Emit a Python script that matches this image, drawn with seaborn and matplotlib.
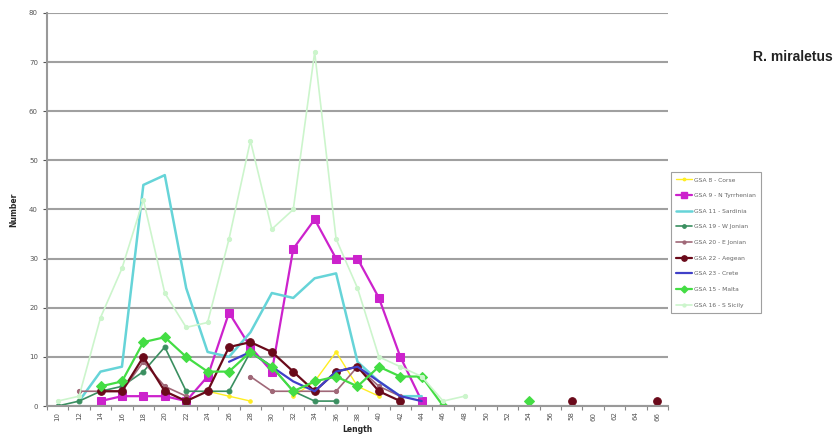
import numpy as np
import pandas as pd
import matplotlib
matplotlib.use("Agg")
import matplotlib.pyplot as plt
from matplotlib.lines import Line2D
import seaborn as sns

nan = np.nan
lengths = [str(v) for v in range(10, 68, 2)]  # 29 length classes

gsa8_corse = [nan, nan, nan, nan, nan, nan, nan, 3, 2, 1, nan, 2, 5, 11, 4, 2, nan, nan, nan, nan, nan, nan, nan, nan, nan, nan, nan, nan, nan]
gsa9_tyrrhenian = [nan, nan, 1, 2, 2, 2, 1, 6, 19, 12, 7, 32, 38, 30, 30, 22, 10, 1, nan, nan, nan, nan, nan, nan, nan, nan, nan, nan, nan]
gsa11_sardinia = [nan, 1, 7, 8, 45, 47, 24, 11, 10, 15, 23, 22, 26, 27, 9, 5, 2, 2, nan, nan, nan, nan, nan, nan, nan, nan, nan, nan, nan]
gsa19_wjonian = [0, 1, 3, 4, 7, 12, 3, 3, 3, 11, 8, 3, 1, 1, nan, nan, nan, nan, nan, nan, nan, nan, nan, nan, nan, nan, nan, nan, nan]
gsa20_ejonian = [nan, 3, 3, 3, 9, 4, 2, nan, nan, 6, 3, 3, 3, 3, 8, 4, 2, nan, nan, nan, nan, nan, nan, nan, nan, nan, nan, nan, nan]
gsa22_aegean = [nan, nan, 3, 3, 10, 3, 1, 3, 12, 13, 11, 7, 3, 7, 8, 3, 1, nan, nan, nan, nan, nan, nan, nan, 1, nan, nan, nan, 1]
gsa23_crete = [nan, nan, nan, nan, nan, nan, nan, nan, 9, 11, 8, 5, 3, 7, 8, 5, 2, 1, nan, nan, nan, nan, nan, nan, nan, nan, nan, nan, nan]
gsa15_malta = [nan, nan, 4, 5, 13, 14, 10, 7, 7, 11, 8, 3, 5, 6, 4, 8, 6, 6, 0, nan, nan, nan, 1, nan, nan, nan, nan, nan, nan]
gsa16_ssicily = [1, 2, 18, 28, 42, 23, 16, 17, 34, 54, 36, 40, 72, 34, 24, 10, 8, 6, 1, 2, nan, nan, nan, nan, nan, nan, nan, nan, nan]

series = [
    ("GSA 8 - Corse", gsa8_corse, "#FFEE22", "o", 1.0, 2.5),
    ("GSA 9 - N Tyrrhenian", gsa9_tyrrhenian, "#CC22CC", "s", 1.6, 6),
    ("GSA 11 - Sardinia", gsa11_sardinia, "#66D4D8", "", 1.8, 0),
    ("GSA 19 - W Jonian", gsa19_wjonian, "#3A8F60", "o", 1.2, 3.5),
    ("GSA 20 - E Jonian", gsa20_ejonian, "#A06878", "o", 1.2, 3),
    ("GSA 22 - Aegean", gsa22_aegean, "#6A0A1A", "o", 1.6, 5.5),
    ("GSA 23 - Crete", gsa23_crete, "#4040C8", "", 1.6, 0),
    ("GSA 15 - Malta", gsa15_malta, "#44DD44", "D", 1.6, 5),
    ("GSA 16 - S Sicily", gsa16_ssicily, "#CCF5CC", "o", 1.2, 3),
]

sns.set_theme(style="white")
plt.rcParams['font.family'] = ['DejaVu Sans']

fig = plt.figure(figsize=(8.35, 4.44), dpi=100)
ax = fig.add_axes([47/835, 1-406/444, 621/835, 393/444])

handles = []
for name, vals, color, marker, lw, ms in series:
    v = np.array(vals, dtype=float)
    seg = np.cumsum(np.isnan(v))
    df = pd.DataFrame({"pos": np.arange(len(v)), "value": v, "seg": seg})
    df = df.dropna()
    kw = dict(marker=marker, markersize=ms, markeredgecolor=color) if marker else {}
    sns.lineplot(data=df, x="pos", y="value", units="seg", estimator=None,
                 color=color, linewidth=lw, ax=ax, legend=False, **kw)
    handles.append(Line2D([0], [0], color=color, lw=lw,
                          marker=marker if marker else None,
                          markersize=ms*0.7, markeredgecolor=color, label=name))

ax.set_xlim(-0.5, len(lengths)-0.5)
ax.set_ylim(0, 80)
ax.set_yticks(range(0, 81, 10))
ax.set_xticks(range(len(lengths)))
ax.set_xticklabels(lengths, rotation=90, fontsize=5, color="#555555")
ax.tick_params(axis="y", labelsize=5, colors="#555555", length=3, width=0.8, direction="out", left=True)
ax.tick_params(axis="x", length=0, pad=4)
ax.set_xticks(np.arange(-0.5, len(lengths), 1), minor=True)
ax.tick_params(axis="x", which="minor", length=3, width=0.8, color="#888888", direction="out", bottom=True)
for lab in ax.get_yticklabels():
    lab.set_color("#555555")
ax.yaxis.grid(True, color="#a0a0a0", linewidth=1.5)
ax.xaxis.grid(False)
ax.set_axisbelow(True)
for s in ["top", "right"]:
    ax.spines[s].set_visible(False)
ax.spines["left"].set_color("#999999")
ax.spines["left"].set_linewidth(1.5)
ax.spines["bottom"].set_color("#999999")
ax.spines["bottom"].set_linewidth(1.5)
ax.set_xlabel("Length", fontsize=5.5, fontweight="bold", labelpad=3)
ax.set_ylabel("Number", fontsize=5.5, fontweight="bold", labelpad=8)

leg = fig.legend(handles=handles, loc="upper left", bbox_to_anchor=(671/835, 1-172/444),
                 fontsize=4.3, frameon=True, fancybox=False, edgecolor="#888888",
                 handlelength=2.6, labelspacing=1.75, borderpad=0.9, handletextpad=0.3,
                 borderaxespad=0)
leg.get_frame().set_linewidth(0.8)
for t in leg.get_texts():
    t.set_color("#666666")

fig.text(793/835, 1-57/444, "R. miraletus", fontsize=10, fontweight="bold",
         family=["Liberation Sans", "DejaVu Sans"],
         ha="center", va="center", color="#222222")

fig.savefig("out.png", dpi=100)
